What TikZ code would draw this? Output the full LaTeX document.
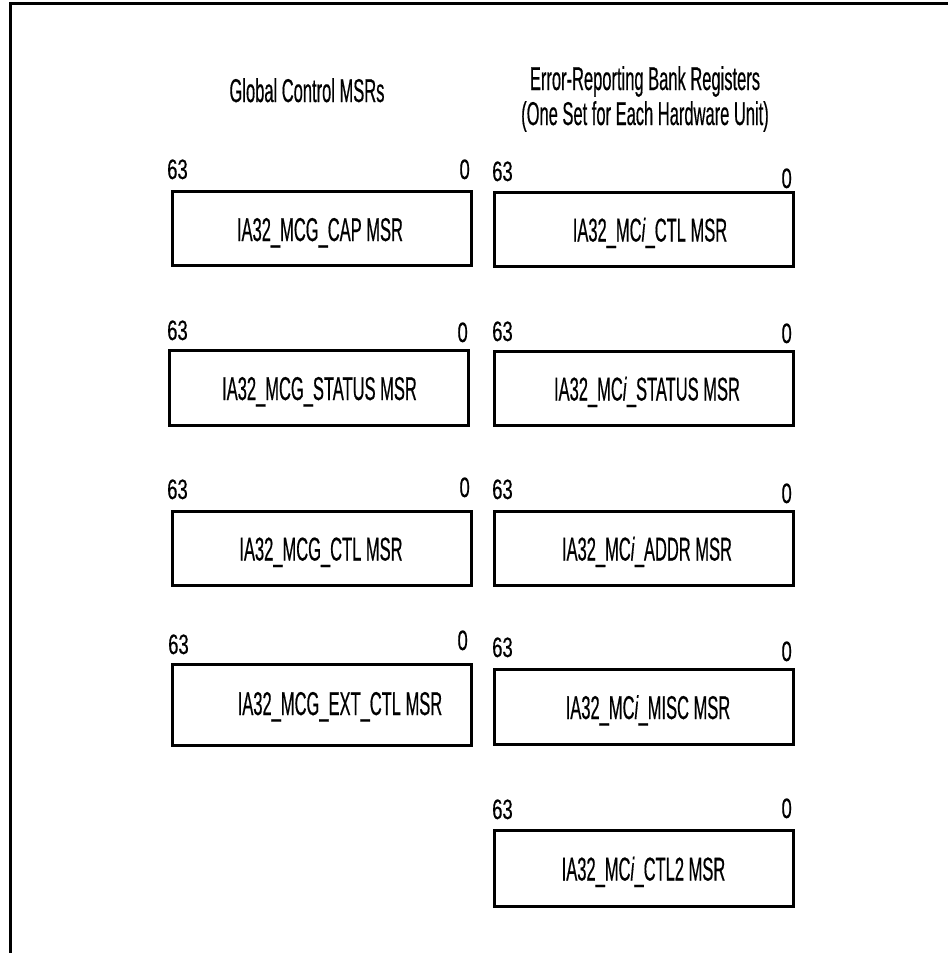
\documentclass[tikz,border=0pt]{standalone}
\usepackage{fontspec}
\setmainfont{Liberation Sans}[FakeStretch=0.5, FakeBold=0.4]
\newfontfamily\numfont{Liberation Sans}[FakeStretch=0.66, FakeBold=0.4]
\begin{document}
\begin{tikzpicture}[x=1pt,y=-1pt,
  regbox/.style={draw, line width=3pt, inner sep=0pt, minimum width=299pt},
  regtext/.style={anchor=base, inner sep=0pt, font=\fontsize{33}{36}\selectfont},
  title/.style={inner sep=0pt, font=\fontsize{33}{36}\selectfont, align=center},
  hi/.style={anchor=base west, inner sep=0pt, font=\numfont\fontsize{28}{30}\selectfont},
  lo/.style={anchor=base east, inner sep=0pt, font=\numfont\fontsize{28}{30}\selectfont},
  frameline/.style={line width=3pt}]
\useasboundingbox (0,0) rectangle (948,953);
% frame
\coordinate (fa) at (948,3.5);
\coordinate (fb) at (10.5,3.5);
\coordinate (fc) at (10.5,953);
\draw[frameline] (fa) -- (fb) -- (fc);
% titles
\node[title, anchor=base] (tl) at (307,102) {Global Control MSRs};
\node[title, anchor=base] (tr1) at (645,90) {Error-Reporting Bank Registers};
\node[title, anchor=base] (tr2) at (645,125) {(One Set for Each Hardware Unit)};
% left column
\node[regbox, minimum height=74pt] (b1l) at (322,228.5) {};
\node[regtext] (t1l) at (320,241) {IA32\_MCG\_CAP MSR};
\node[hi] (h1l) at (167,179) {63};
\node[lo] (l1l) at (470,179) {0};
\node[regbox, minimum height=75pt] (b2l) at (319,388) {};
\node[regtext] (t2l) at (319.5,400) {IA32\_MCG\_STATUS MSR};
\node[hi] (h2l) at (167,340) {63};
\node[lo] (l2l) at (468,342) {0};
\node[regbox, minimum height=74pt] (b3l) at (322,548.5) {};
\node[regtext] (t3l) at (321,560.5) {IA32\_MCG\_CTL MSR};
\node[hi] (h3l) at (167,499) {63};
\node[lo] (l3l) at (470,497) {0};
\node[regbox, minimum height=81pt] (b4l) at (322,705) {};
\node[regtext] (t4l) at (340,715) {IA32\_MCG\_EXT\_CTL MSR};
\node[hi] (h4l) at (168,654) {63};
\node[lo] (l4l) at (468,650) {0};
% right column
\node[regbox, minimum height=74pt] (b1r) at (644,229.5) {};
\node[regtext] (t1r) at (650,241.5) {IA32\_MC\textit{i}\_CTL MSR};
\node[hi] (h1r) at (492,181) {63};
\node[lo] (l1r) at (792,188) {0};
\node[regbox, minimum height=74pt] (b2r) at (644,388.5) {};
\node[regtext] (t2r) at (647,400.5) {IA32\_MC\textit{i}\_STATUS MSR};
\node[hi] (h2r) at (492,341) {63};
\node[lo] (l2r) at (792,343) {0};
\node[regbox, minimum height=74pt] (b3r) at (644,548.5) {};
\node[regtext] (t3r) at (647,560.5) {IA32\_MC\textit{i}\_ADDR MSR};
\node[hi] (h3r) at (492,499) {63};
\node[lo] (l3r) at (792,503) {0};
\node[regbox, minimum height=75pt] (b4r) at (644,707) {};
\node[regtext] (t4r) at (648,719) {IA32\_MC\textit{i}\_MISC MSR};
\node[hi] (h4r) at (492,657) {63};
\node[lo] (l4r) at (792,661) {0};
\node[regbox, minimum height=76pt] (b5r) at (644,868.5) {};
\node[regtext] (t5r) at (643.5,880.5) {IA32\_MC\textit{i}\_CTL2 MSR};
\node[hi] (h5r) at (492,819) {63};
\node[lo] (l5r) at (792,818) {0};
\end{tikzpicture}
\end{document}
